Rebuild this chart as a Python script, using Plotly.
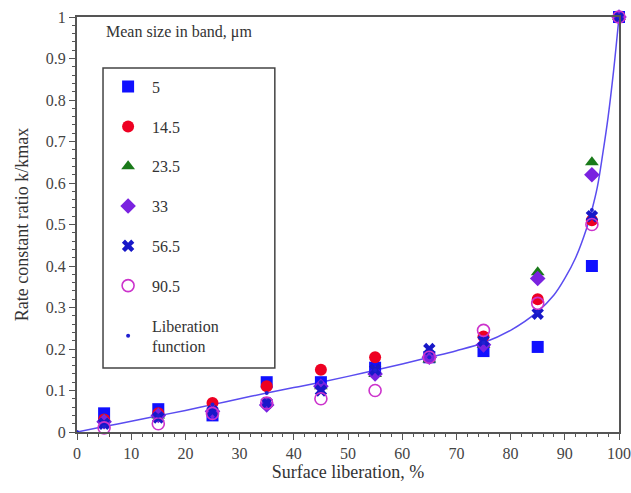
import plotly.graph_objects as go

x_pts = [5, 15, 25, 35, 45, 55, 65, 75, 85, 95, 100]
s5    = [0.045, 0.055, 0.040, 0.120, 0.120, 0.155, 0.180, 0.195, 0.205, 0.400, 1.0]
s14_5 = [0.030, 0.045, 0.070, 0.110, 0.150, 0.180, 0.180, 0.230, 0.320, 0.510, 1.0]
s23_5 = [0.030, 0.040, 0.050, 0.070, 0.110, 0.140, 0.175, 0.210, 0.385, 0.650, 1.0]
s33   = [0.025, 0.040, 0.050, 0.065, 0.110, 0.140, 0.180, 0.210, 0.370, 0.620, 1.0]
s56_5 = [0.020, 0.035, 0.050, 0.070, 0.100, 0.150, 0.200, 0.220, 0.285, 0.520, 1.0]
s90_5 = [0.010, 0.020, 0.045, 0.070, 0.080, 0.100, 0.180, 0.245, 0.310, 0.500, 1.0]

lib_x = [0, 5, 10, 15, 20, 25, 30, 35, 40, 45, 50, 55, 60, 65, 70, 75, 80, 85, 88, 90, 92, 94, 95, 96, 97, 98, 99, 100]
lib_y = [0, 0.013, 0.026, 0.039, 0.052, 0.066, 0.080, 0.094, 0.107, 0.120, 0.134, 0.149, 0.164, 0.180, 0.196, 0.215, 0.245, 0.290, 0.330, 0.370, 0.420, 0.490, 0.535, 0.590, 0.670, 0.760, 0.870, 1.0]
dot_x = [0, 5, 15, 25, 35, 45, 55, 65, 75, 85, 95, 100]
dot_y = [0, 0.013, 0.039, 0.066, 0.094, 0.120, 0.149, 0.180, 0.215, 0.290, 0.535, 1.0]

series = [
    ("5", s5, "square", "#1010ff", 12, None),
    ("14.5", s14_5, "circle", "#ee0022", 12, None),
    ("23.5", s23_5, "triangle-up", "#1a7a1a", 12, None),
    ("33", s33, "diamond", "#7a22e0", 12, None),
    ("56.5", s56_5, "x", "#1818c8", 11, None),
    ("90.5", s90_5, "circle-open", "#cc33cc", 12, 1.6),
]

fig = go.Figure()
fig.add_trace(go.Scatter(x=lib_x, y=lib_y, mode="lines", line=dict(color="#5a4cf0", width=1.5, shape="spline"),
                         showlegend=False, hoverinfo="skip"))
for i, (name, ys, sym, col, sz, lw) in enumerate(series):
    mk = dict(symbol=sym, color=col, size=sz)
    if lw:
        mk["line"] = dict(color=col, width=lw)
    else:
        mk["line"] = dict(width=0)
    fig.add_trace(go.Scatter(x=x_pts, y=ys, mode="markers", name=name, marker=mk, legendgroup=f"g{i}"))
fig.add_trace(go.Scatter(x=dot_x, y=dot_y, mode="markers", name="Liberation<br>function",
                         marker=dict(symbol="circle", color="#2020d0", size=4), legendgroup="g9"))

font = "Liberation Serif, Times New Roman, serif"
axcol = "#555555"
fig.update_layout(
    width=631, height=493,
    margin=dict(l=77, r=12, t=17, b=61, autoexpand=False),
    paper_bgcolor="white", plot_bgcolor="white",
    font=dict(family=font, size=16, color="#333333"),
    showlegend=True,
    legend=dict(x=0.05, y=0.873, xanchor="left", yanchor="top",
                borderwidth=0, bgcolor="rgba(0,0,0,0)",
                traceorder="grouped", tracegroupgap=16,
                font=dict(family=font, size=16, color="#333333"),
                itemwidth=38),
    shapes=[dict(type="rect", xref="paper", yref="paper", x0=0.048, x1=0.365, y0=0.154, y1=0.877,
                 line=dict(color="#444444", width=1.5), layer="above")],
    annotations=[dict(text="Mean size in band, μm", x=0.05, y=0.99, xref="paper", yref="paper",
                      xanchor="left", yanchor="top", showarrow=False,
                      font=dict(family=font, size=16, color="#333333"))],
    xaxis=dict(range=[0, 100], tickvals=list(range(0, 101, 10)), ticks="outside", ticklen=6,
               tickcolor=axcol, showline=True, linecolor=axcol, linewidth=2, mirror=True,
               showgrid=False, zeroline=False, automargin=False,
               tickfont=dict(family=font, size=16, color="#444444"),
               minor=dict(dtick=2, ticks="outside", ticklen=3, tickcolor=axcol),
               title=dict(text="Surface liberation, %", font=dict(family=font, size=18), standoff=4)),
    yaxis=dict(range=[0, 1], tickvals=[0, 0.1, 0.2, 0.3, 0.4, 0.5, 0.6, 0.7, 0.8, 0.9, 1],
               ticktext=["0", "0.1", "0.2", "0.3", "0.4", "0.5", "0.6", "0.7", "0.8", "0.9", "1"],
               ticks="outside", ticklen=6, tickcolor=axcol,
               showline=True, linecolor=axcol, linewidth=2, mirror=True,
               showgrid=False, zeroline=False, automargin=False,
               tickfont=dict(family=font, size=16, color="#444444"),
               minor=dict(dtick=0.02, ticks="outside", ticklen=3, tickcolor=axcol),
               title=dict(text="Rate constant ratio k/kmax", font=dict(family=font, size=18), standoff=12)),
)
fig.update_traces(cliponaxis=False)
fig.write_html("out.html")
